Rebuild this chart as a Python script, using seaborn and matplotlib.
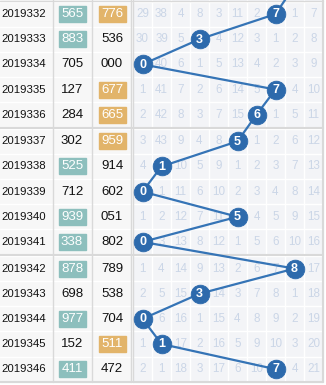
"""
Lottery trend chart: issue, two draw numbers, and a 0-9 omission grid
with the hit digit circled and linked row by row.
"""

import numpy as np
import pandas as pd
import matplotlib; matplotlib.use("Agg")
import matplotlib.pyplot as plt
from matplotlib.patches import Rectangle
import seaborn as sns

sns.set_theme(style="white")
plt.rcParams["font.family"] = ["Liberation Sans", "DejaVu Sans"]

# ── data ────────────────────────────────────────────────────────────
issues = ["2019332", "2019333", "2019334", "2019335", "2019336",
          "2019337", "2019338", "2019339", "2019340", "2019341",
          "2019342", "2019343", "2019344", "2019345", "2019346"]
num_a = ["565", "883", "705", "127", "284", "302", "525", "712",
         "939", "338", "878", "698", "977", "152", "411"]
num_b = ["776", "536", "000", "677", "665", "959", "914", "602",
         "051", "802", "789", "538", "704", "511", "472"]
hl_a = [1, 1, 0, 0, 0, 0, 1, 0, 1, 1, 1, 0, 1, 0, 1]
hl_b = [1, 0, 0, 1, 1, 1, 0, 0, 0, 0, 0, 0, 0, 1, 0]
hit_digit = [7, 3, 0, 7, 6, 5, 1, 0, 5, 0, 8, 3, 0, 1, 7]
prev_digit = 8
omission = [
    [29, 38, 4, 8, 3, 11, 2, 7, 1, 7],
    [30, 39, 5, 3, 4, 12, 3, 1, 2, 8],
    [0, 40, 6, 1, 5, 13, 4, 2, 3, 9],
    [1, 41, 7, 2, 6, 14, 5, 7, 4, 10],
    [2, 42, 8, 3, 7, 15, 6, 1, 5, 11],
    [3, 43, 9, 4, 8, 5, 1, 2, 6, 12],
    [4, 1, 10, 5, 9, 1, 2, 3, 7, 13],
    [0, 1, 11, 6, 10, 2, 3, 4, 8, 14],
    [1, 2, 12, 7, 11, 5, 4, 5, 9, 15],
    [0, 3, 13, 8, 12, 1, 5, 6, 10, 16],
    [1, 4, 14, 9, 13, 2, 6, 7, 8, 17],
    [2, 5, 15, 3, 14, 3, 7, 8, 1, 18],
    [0, 6, 16, 1, 15, 4, 8, 9, 2, 19],
    [1, 1, 17, 2, 16, 5, 9, 10, 3, 20],
    [2, 1, 18, 3, 17, 6, 10, 7, 4, 21],
]

# ── layout (pixel space) ────────────────────────────────────────────
W, H = 326, 385
ROW_TOP, ROW_H, GAP = 1.5, 25.15, 1.5
GRID_X0, COL_W = 133, 19
BLUE = "#2d6aac"
LINE = "#3574b6"
FADE = "#cbd6e7"
TEAL = "#8dbfbd"
ORANGE = "#e2b46a"


def row_top(i):
    return ROW_TOP + ROW_H * i + GAP * (i // 5)


def row_mid(i):
    return row_top(i) + ROW_H / 2


def col_mid(d):
    return GRID_X0 + COL_W * (d + 0.5)


n = len(issues)
fig = plt.figure(figsize=(W / 100, H / 100), dpi=100)
ax = fig.add_axes([0, 0, 1, 1])
ax.set_xlim(0, W)
ax.set_ylim(H, 0)
ax.axis("off")

bottom = row_top(n - 1) + ROW_H
# backgrounds
ax.add_patch(Rectangle((0, 0), 131, bottom, color="#f7f7f7", zorder=0))
ax.add_patch(Rectangle((GRID_X0, 0), COL_W * 10, bottom, color="#f3f4f7", zorder=0))

# white cell lines
for i in range(n):
    ax.plot([0, GRID_X0 + COL_W * 10], [row_top(i)] * 2, color="white", lw=1, zorder=1)
for d in range(1, 10):
    ax.plot([GRID_X0 + COL_W * d] * 2, [0, bottom], color="white", lw=1, zorder=1)

# grey separators
sep = "#d9d9d9"
for xv in [53, 92, 131, 133]:
    ax.plot([xv, xv], [0, bottom], color=sep, lw=1, zorder=1)
for i in [5, 10]:
    ax.plot([0, GRID_X0 + COL_W * 10], [row_top(i) - GAP / 2] * 2, color=sep, lw=1.5, zorder=1)
ax.plot([0, GRID_X0 + COL_W * 10], [0.5, 0.5], color=sep, lw=1, zorder=1)
ax.plot([0, GRID_X0 + COL_W * 10], [bottom + 0.5] * 2, color=sep, lw=1.5, zorder=1)
ax.plot([GRID_X0 + COL_W * 10] * 2, [0, bottom], color=sep, lw=1.5, zorder=1)

# left columns
for i in range(n):
    y = row_mid(i)
    ax.text(24, y, issues[i], ha="center", va="center", fontsize=8.2, color="#111111", zorder=3)
    if hl_a[i]:
        ax.add_patch(Rectangle((72 - 13.5, y - 8), 27, 16, color=TEAL, zorder=2))
    if hl_b[i]:
        ax.add_patch(Rectangle((112 - 13.5, y - 8), 27, 16, color=ORANGE, zorder=2))
    ax.text(72, y, num_a[i], ha="center", va="center", fontsize=9.5,
            color="white" if hl_a[i] else "#111111", zorder=3)
    ax.text(112, y, num_b[i], ha="center", va="center", fontsize=9.5,
            color="white" if hl_b[i] else "#111111", zorder=3)

# faded omission values
for i in range(n):
    for d in range(10):
        if d == hit_digit[i]:
            continue
        ax.text(col_mid(d), row_mid(i), str(omission[i][d]), ha="center", va="center",
                fontsize=8.4, color=FADE, zorder=2)

# trend line + circles
trend = pd.DataFrame({
    "x": [col_mid(prev_digit)] + [col_mid(d) for d in hit_digit],
    "y": [row_mid(-1) - GAP] + [row_mid(i) for i in range(n)],
    "order": range(n + 1),
})
sns.lineplot(data=trend, x="x", y="y", sort=False, estimator=None,
             color=LINE, linewidth=1.6, ax=ax, zorder=4)
pts = trend.iloc[1:]
sns.scatterplot(data=pts, x="x", y="y", s=180, color=BLUE, edgecolor=BLUE,
                linewidth=0.6, ax=ax, zorder=5, legend=False)
for i in range(n):
    ax.text(col_mid(hit_digit[i]), row_mid(i) + 0.3, str(hit_digit[i]), ha="center",
            va="center", fontsize=9, fontweight="bold", color="white", zorder=6)

ax.set_xlim(0, W)
ax.set_ylim(H, 0)
ax.axis("off")
plt.savefig("out.png", dpi=100)
plt.close()
